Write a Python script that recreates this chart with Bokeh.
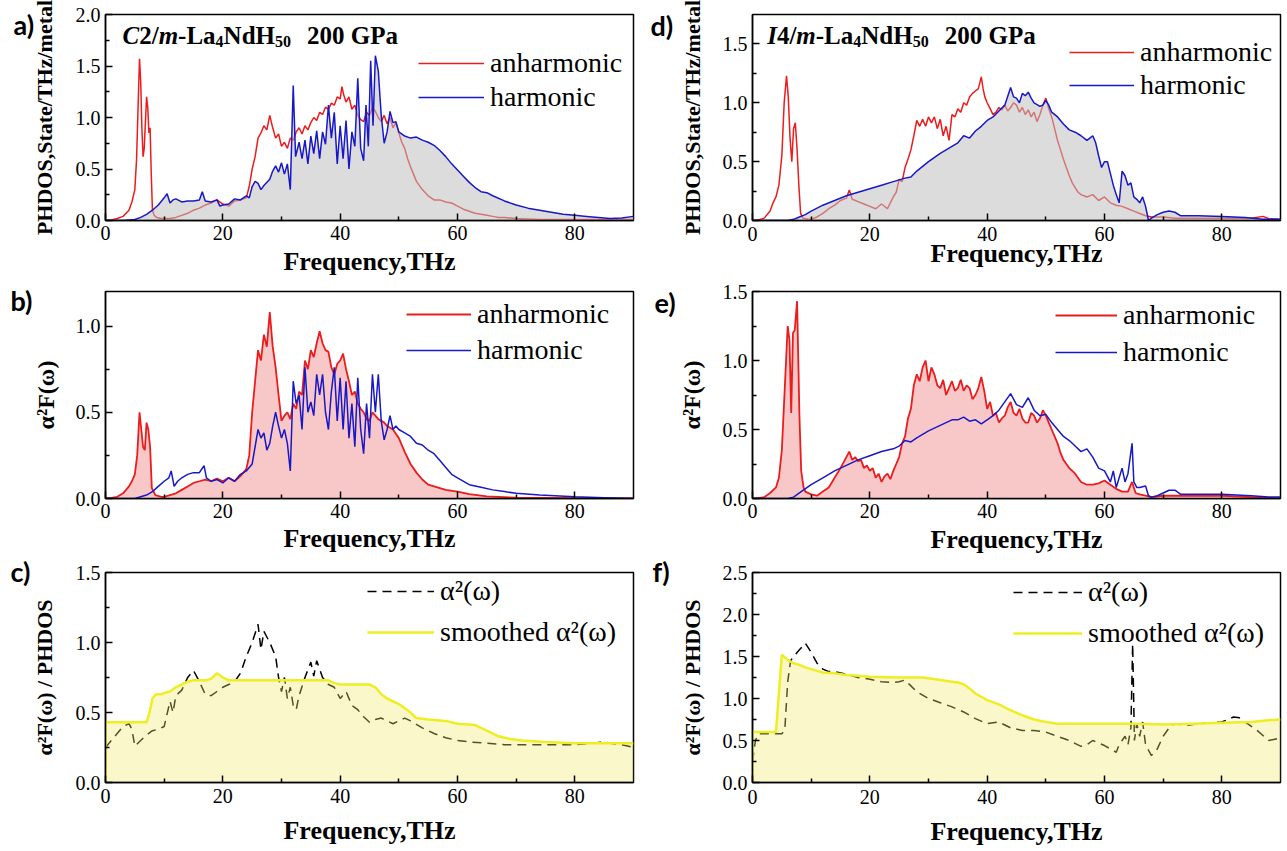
from bokeh.plotting import figure
from bokeh.layouts import column, row
from bokeh.models import (Label, Legend, LegendItem, FixedTicker,
                          NumeralTickFormatter, Range1d, Title)
from bokeh.embed import file_html
from bokeh.resources import INLINE

# ---------------------------------------------------------------- data
# (frequency THz, value) pairs read for each curve

# C2/m-La4NdH50 phonon DOS
a_anh = [(0, 0.0), (1, 0.005), (2, 0.02), (3, 0.04), (3.5, 0.07), (4, 0.1), (4.5, 0.18), (5, 0.3),
         (5.3, 0.6), (5.6, 1.2), (5.8, 1.57), (6.0, 1.35), (6.2, 0.9), (6.4, 0.62), (6.6, 0.7),
         (6.8, 0.95), (7.0, 1.2), (7.2, 1.1), (7.4, 0.85), (7.6, 0.9), (7.8, 0.45), (8.0, 0.1),
         (8.3, 0.05), (8.7, 0.03), (9.5, 0.02), (10, 0.02), (11, 0.02), (12, 0.03), (13, 0.05),
         (14, 0.07), (15, 0.1), (16, 0.12), (17, 0.15), (18, 0.17), (19, 0.2), (20, 0.16),
         (21, 0.14), (22, 0.19), (23, 0.2), (24, 0.22), (24.5, 0.33), (25, 0.5), (25.5, 0.62),
         (26, 0.8), (26.5, 0.85), (27, 0.92), (27.5, 0.88), (28, 1.02), (28.5, 0.9), (29, 0.8),
         (29.5, 0.84), (30, 0.72), (30.5, 0.76), (31, 0.7), (31.5, 0.8), (32, 0.78), (32.5, 0.86),
         (33, 0.9), (33.5, 0.84), (34, 0.92), (34.5, 0.88), (35, 0.95), (35.5, 1.0), (36, 0.97),
         (36.5, 1.05), (37, 1.03), (37.5, 1.1), (38, 1.08), (38.5, 1.14), (39, 1.12), (39.5, 1.2),
         (40, 1.18), (40.3, 1.3), (40.6, 1.22), (41, 1.15), (41.5, 1.2), (42, 1.08), (42.5, 1.12),
         (43, 1.02), (43.5, 0.98), (44, 0.96), (44.5, 1.05), (45, 1.02), (45.5, 1.1), (46, 1.06),
         (46.5, 1.0), (47, 0.96), (47.5, 1.02), (48, 0.94), (48.5, 1.0), (49, 0.9), (49.5, 0.95),
         (50, 0.85), (50.5, 0.76), (51, 0.7), (51.5, 0.6), (52, 0.52), (52.5, 0.45), (53, 0.38),
         (54, 0.3), (55, 0.24), (56, 0.2), (57, 0.2), (58, 0.18), (59, 0.17), (60, 0.14),
         (61, 0.11), (62, 0.09), (63, 0.07), (64, 0.06), (65, 0.05), (66, 0.04), (67, 0.03),
         (68, 0.03), (70, 0.02), (72, 0.015), (74, 0.01), (78, 0.01), (82, 0.01), (86, 0.01),
         (90, 0.01)]
a_harm = [(0, 0.0), (3, 0.0), (4, 0.005), (5, 0.01), (6, 0.03), (7, 0.06), (8, 0.1), (9, 0.15),
          (10, 0.22), (10.5, 0.26), (11, 0.17), (11.5, 0.2), (12, 0.21), (13, 0.18), (14, 0.19),
          (15, 0.19), (16, 0.2), (16.5, 0.28), (17, 0.19), (18, 0.18), (19, 0.2), (19.5, 0.14),
          (20, 0.15), (21, 0.16), (22, 0.21), (23, 0.2), (24, 0.24), (24.5, 0.22), (25, 0.33),
          (25.5, 0.38), (26, 0.36), (26.5, 0.3), (27, 0.34), (28, 0.4), (28.5, 0.48), (29, 0.53),
          (29.5, 0.47), (30, 0.56), (30.5, 0.45), (31, 0.55), (31.5, 0.3), (32, 1.31), (32.4, 0.62),
          (33, 0.76), (33.5, 0.6), (34, 0.78), (34.5, 0.55), (35, 0.82), (35.5, 0.65), (36, 0.87),
          (36.5, 0.6), (37, 0.86), (37.5, 0.74), (38, 1.12), (38.5, 0.8), (39, 1.05), (39.5, 0.55),
          (40, 0.92), (40.5, 0.6), (41, 0.97), (41.5, 0.5), (42, 0.86), (42.5, 0.72), (43, 1.38),
          (43.5, 0.7), (44, 0.58), (44.4, 1.12), (44.8, 0.72), (45.2, 1.55), (45.6, 0.92),
          (46, 1.6), (46.5, 1.45), (47, 1.02), (47.5, 0.75), (48, 0.86), (48.5, 1.06), (49, 0.95),
          (49.5, 0.96), (50, 0.86), (51, 0.82), (52, 0.8), (53, 0.81), (54, 0.78), (55, 0.76),
          (56, 0.73), (57, 0.68), (58, 0.62), (59, 0.55), (60, 0.49), (61, 0.43), (62, 0.37),
          (63, 0.32), (64, 0.28), (65, 0.27), (66, 0.24), (68, 0.19), (70, 0.15), (72, 0.12),
          (74, 0.1), (76, 0.08), (78, 0.06), (80, 0.05), (82, 0.04), (84, 0.03), (86, 0.02),
          (88, 0.025), (90, 0.04)]

# I4/m-La4NdH50 phonon DOS
d_anh = [(0, 0.0), (1, 0.005), (2, 0.02), (3, 0.08), (3.5, 0.15), (4, 0.2), (4.5, 0.3), (5, 0.55),
         (5.4, 1.0), (5.8, 1.23), (6.1, 1.05), (6.4, 0.7), (6.7, 0.5), (7.0, 0.78), (7.3, 0.83),
         (7.6, 0.6), (7.9, 0.3), (8.2, 0.06), (8.6, 0.02), (9.5, 0.01), (10, 0.01), (11, 0.03),
         (12, 0.06), (13, 0.1), (14, 0.13), (15, 0.17), (16, 0.19), (16.5, 0.26), (17, 0.18),
         (18, 0.16), (19, 0.14), (20, 0.12), (21, 0.1), (22, 0.14), (23, 0.1), (24, 0.2),
         (24.5, 0.24), (25, 0.35), (25.5, 0.33), (26, 0.45), (26.5, 0.52), (27, 0.6), (27.5, 0.72),
         (28, 0.85), (28.5, 0.8), (29, 0.86), (29.5, 0.8), (30, 0.88), (30.5, 0.83), (31, 0.88),
         (31.5, 0.78), (32, 0.86), (32.5, 0.72), (33, 0.8), (33.5, 0.68), (34, 0.9), (34.5, 0.88),
         (35, 0.95), (35.5, 0.92), (36, 1.0), (36.5, 0.98), (37, 1.05), (37.5, 1.08), (38, 1.1),
         (38.5, 1.12), (39, 1.22), (39.3, 1.12), (39.6, 1.05), (40, 1.0), (40.5, 0.95), (41, 0.9),
         (41.5, 0.92), (42, 0.96), (42.5, 0.94), (43, 0.98), (43.5, 0.93), (44, 0.96), (44.5, 1.0),
         (45, 0.98), (45.5, 0.92), (46, 0.96), (46.5, 0.9), (47, 0.94), (47.5, 0.88), (48, 0.92),
         (48.5, 0.84), (49, 0.9), (49.5, 0.98), (50, 1.04), (50.5, 0.95), (51, 0.88), (51.5, 0.78),
         (52, 0.68), (52.5, 0.6), (53, 0.52), (53.5, 0.45), (54, 0.38), (54.5, 0.32), (55, 0.28),
         (55.5, 0.24), (56, 0.22), (57, 0.2), (58, 0.22), (59, 0.17), (60, 0.2), (61, 0.15),
         (62, 0.13), (63, 0.12), (64, 0.1), (65, 0.08), (66, 0.06), (67, 0.04), (68, 0.03),
         (70, 0.03), (72, 0.02), (75, 0.02), (80, 0.02), (85, 0.02), (87, 0.035), (88, 0.015),
         (90, 0.01)]
d_harm = [(0, 0.0), (6, 0.0), (7, 0.01), (8, 0.03), (9, 0.05), (10, 0.08), (12, 0.13), (14, 0.17),
          (16, 0.21), (18, 0.24), (20, 0.27), (22, 0.3), (24, 0.33), (26, 0.36), (27, 0.37),
          (28, 0.42), (30, 0.5), (32, 0.57), (34, 0.63), (35, 0.66), (36, 0.72), (37, 0.7),
          (38, 0.76), (39, 0.8), (40, 0.85), (41, 0.88), (42, 0.93), (43, 0.98), (44, 1.13),
          (44.5, 1.05), (45, 1.04), (45.5, 1.0), (46, 1.08), (46.5, 1.06), (47, 1.09), (47.5, 1.04),
          (48, 1.0), (49, 0.97), (49.5, 0.98), (50, 1.02), (50.5, 0.98), (51, 0.92), (52, 0.88),
          (53, 0.82), (54, 0.77), (55, 0.75), (56, 0.72), (57, 0.68), (57.5, 0.7), (58, 0.72),
          (58.5, 0.66), (59, 0.55), (59.5, 0.45), (60, 0.5), (60.5, 0.5), (61, 0.4), (61.5, 0.3),
          (62, 0.22), (62.5, 0.15), (63, 0.42), (63.5, 0.38), (64, 0.3), (64.5, 0.32), (65, 0.2),
          (65.5, 0.18), (66, 0.15), (66.5, 0.2), (67, 0.12), (67.5, 0.0), (68, 0.02), (69, 0.05),
          (70, 0.07), (71, 0.08), (72, 0.07), (73, 0.04), (76, 0.04), (80, 0.035), (84, 0.025),
          (87, 0.01), (90, 0.01)]

# C2/m Eliashberg function
b_anh = [(0, 0.0), (1, 0.003), (2, 0.01), (3, 0.03), (4, 0.07), (4.5, 0.1), (5, 0.14), (5.4, 0.25),
         (5.8, 0.5), (6.1, 0.4), (6.4, 0.3), (6.7, 0.28), (7.0, 0.44), (7.3, 0.4), (7.6, 0.3),
         (7.9, 0.06), (8.5, 0.02), (9.5, 0.01), (10, 0.01), (11, 0.02), (12, 0.03), (13, 0.05),
         (14, 0.07), (15, 0.09), (16, 0.1), (17, 0.11), (18, 0.1), (19, 0.115), (20, 0.1),
         (21, 0.12), (22, 0.1), (23, 0.13), (24, 0.17), (24.5, 0.25), (25, 0.5), (25.5, 0.68),
         (26, 0.86), (26.5, 0.8), (27, 0.95), (27.5, 0.88), (28, 1.08), (28.5, 0.88), (29, 0.76),
         (29.5, 0.6), (30, 0.45), (30.5, 0.48), (31, 0.5), (31.5, 0.46), (32, 0.55), (32.5, 0.52),
         (33, 0.62), (33.5, 0.6), (34, 0.8), (34.5, 0.75), (35, 0.86), (35.5, 0.82), (36, 0.9),
         (36.5, 0.97), (37, 0.9), (37.5, 0.86), (38, 0.85), (38.5, 0.76), (39, 0.72), (39.5, 0.78),
         (40, 0.8), (40.5, 0.84), (41, 0.75), (41.5, 0.68), (42, 0.6), (42.5, 0.62), (43, 0.55),
         (43.5, 0.52), (44, 0.5), (44.5, 0.46), (45, 0.45), (45.5, 0.5), (46, 0.48), (46.5, 0.46),
         (47, 0.45), (47.5, 0.44), (48, 0.42), (49, 0.4), (50, 0.35), (51, 0.27), (52, 0.2),
         (53, 0.15), (54, 0.11), (55, 0.08), (56, 0.07), (57, 0.06), (58, 0.05), (60, 0.04),
         (62, 0.025), (65, 0.012), (70, 0.005), (80, 0.002), (90, 0.0)]
b_harm = [(0, 0.0), (5, 0.0), (6, 0.01), (7, 0.02), (8, 0.04), (9, 0.07), (10, 0.1), (10.8, 0.12),
          (11.2, 0.16), (11.7, 0.07), (12.3, 0.1), (13, 0.12), (14, 0.14), (15, 0.15), (16, 0.15),
          (16.8, 0.19), (17.2, 0.12), (18, 0.1), (19, 0.11), (20, 0.09), (21, 0.12), (22, 0.1),
          (23, 0.14), (24, 0.16), (25, 0.2), (25.5, 0.3), (26, 0.4), (26.5, 0.35), (27, 0.38),
          (27.5, 0.28), (28, 0.32), (28.5, 0.42), (29, 0.5), (29.5, 0.42), (30, 0.35), (30.5, 0.4),
          (31, 0.32), (31.5, 0.16), (32, 0.68), (32.5, 0.55), (33, 0.6), (33.5, 0.4), (34, 0.76),
          (34.5, 0.5), (35, 0.56), (35.5, 0.48), (36, 0.72), (36.5, 0.6), (37, 0.72), (37.5, 0.5),
          (38, 0.4), (38.5, 0.62), (39, 0.76), (39.5, 0.45), (40, 0.7), (40.5, 0.4), (41, 0.68),
          (41.5, 0.35), (42, 0.55), (42.5, 0.3), (43, 0.7), (43.5, 0.4), (44, 0.26), (44.5, 0.55),
          (45, 0.35), (45.5, 0.72), (46, 0.5), (46.5, 0.72), (47, 0.45), (47.5, 0.34), (48, 0.4),
          (48.5, 0.48), (49, 0.4), (49.5, 0.42), (50, 0.4), (51, 0.38), (52, 0.36), (53, 0.32),
          (54, 0.31), (55, 0.28), (56, 0.26), (57, 0.22), (58, 0.18), (59, 0.14), (60, 0.12),
          (62, 0.08), (64, 0.065), (66, 0.05), (68, 0.04), (70, 0.03), (74, 0.02), (80, 0.01),
          (85, 0.005), (90, 0.0)]

# I4/m Eliashberg function
e_anh = [(0, 0.0), (1, 0.003), (2, 0.01), (3, 0.04), (4, 0.08), (4.5, 0.15), (5, 0.35), (5.5, 0.8),
         (6.0, 1.25), (6.3, 1.15), (6.6, 0.62), (6.9, 1.2), (7.2, 1.22), (7.6, 1.43), (8.0, 0.6),
         (8.3, 0.2), (8.7, 0.08), (9, 0.05), (10, 0.03), (11, 0.02), (12, 0.05), (13, 0.08),
         (14, 0.15), (15, 0.22), (16, 0.3), (16.5, 0.34), (17, 0.28), (17.5, 0.3), (18, 0.27),
         (18.5, 0.28), (19, 0.22), (19.5, 0.24), (20, 0.2), (20.5, 0.22), (21, 0.15), (21.5, 0.18),
         (22, 0.12), (22.5, 0.16), (23, 0.18), (23.5, 0.14), (24, 0.2), (24.5, 0.25), (25, 0.3),
         (25.5, 0.4), (26, 0.45), (26.5, 0.58), (27, 0.65), (27.5, 0.82), (28, 0.9), (28.5, 0.85),
         (29, 0.95), (29.5, 1.0), (30, 0.85), (30.5, 0.95), (31, 0.9), (31.5, 0.82), (32, 0.8),
         (32.5, 0.86), (33, 0.75), (33.5, 0.8), (34, 0.85), (34.5, 0.78), (35, 0.8), (35.5, 0.86),
         (36, 0.78), (36.5, 0.82), (37, 0.8), (37.5, 0.72), (38, 0.75), (38.5, 0.8), (39, 0.88),
         (39.5, 0.78), (40, 0.65), (40.5, 0.7), (41, 0.6), (41.5, 0.62), (42, 0.55), (42.5, 0.58),
         (43, 0.6), (43.5, 0.66), (44, 0.7), (44.5, 0.62), (45, 0.6), (45.5, 0.65), (46, 0.58),
         (46.5, 0.55), (47, 0.55), (47.5, 0.62), (48, 0.6), (48.5, 0.55), (49, 0.58), (49.5, 0.64),
         (50, 0.6), (50.5, 0.55), (51, 0.5), (51.5, 0.45), (52, 0.4), (52.5, 0.33), (53, 0.28),
         (53.5, 0.25), (54, 0.22), (54.5, 0.2), (55, 0.18), (56, 0.12), (57, 0.1), (58, 0.1),
         (59, 0.11), (60, 0.13), (61, 0.1), (62, 0.07), (63, 0.05), (64, 0.05), (64.7, 0.12),
         (65.3, 0.04), (66, 0.03), (67, 0.02), (68, 0.01), (70, 0.02), (72, 0.02), (75, 0.02),
         (80, 0.02), (85, 0.01), (90, 0.0)]
e_harm = [(0, 0.0), (6, 0.0), (7, 0.01), (8, 0.04), (10, 0.1), (12, 0.15), (14, 0.2), (16, 0.24),
          (18, 0.28), (20, 0.31), (22, 0.34), (24, 0.36), (25, 0.38), (26, 0.42), (27, 0.41),
          (28, 0.44), (30, 0.49), (32, 0.53), (34, 0.57), (35, 0.57), (36, 0.59), (37, 0.56),
          (38, 0.57), (39, 0.54), (40, 0.57), (41, 0.6), (42, 0.64), (43, 0.7), (44, 0.76),
          (45, 0.68), (46, 0.66), (47, 0.73), (48, 0.64), (49, 0.6), (50, 0.61), (51, 0.55),
          (52, 0.5), (53, 0.45), (54, 0.42), (55, 0.38), (56, 0.34), (57, 0.36), (58, 0.3),
          (59, 0.22), (60, 0.2), (61, 0.12), (61.5, 0.2), (62, 0.08), (63, 0.22), (63.5, 0.12),
          (64, 0.18), (64.7, 0.4), (65, 0.12), (65.5, 0.08), (66, 0.08), (67, 0.09), (67.5, 0.02),
          (68, 0.01), (69, 0.02), (70, 0.04), (71, 0.06), (72, 0.06), (73, 0.03), (76, 0.03),
          (80, 0.03), (85, 0.02), (88, 0.01), (90, 0.01)]

# alpha^2 = alpha^2F / PHDOS, raw and smoothed
c_alpha = [(0, 0.25), (1, 0.3), (2, 0.35), (3, 0.4), (4, 0.42), (4.5, 0.38), (5, 0.26), (6, 0.3),
           (7, 0.34), (8, 0.37), (9, 0.38), (10, 0.4), (11, 0.58), (11.5, 0.5), (12, 0.62),
           (13, 0.66), (14, 0.75), (15, 0.8), (16, 0.72), (17, 0.63), (18, 0.62), (19, 0.65),
           (20, 0.68), (21, 0.7), (22, 0.72), (23, 0.78), (24, 0.9), (25, 1.0), (26, 1.13),
           (26.5, 0.95), (27, 1.08), (28, 1.0), (29, 0.9), (29.5, 0.75), (30, 0.65), (30.5, 0.75),
           (31, 0.6), (31.5, 0.68), (32, 0.55), (32.5, 0.52), (33, 0.62), (34, 0.75), (35, 0.86),
           (35.5, 0.76), (36, 0.87), (37, 0.75), (38, 0.7), (39, 0.68), (40, 0.6), (41, 0.65),
           (42, 0.55), (43, 0.52), (44, 0.47), (45, 0.43), (46, 0.45), (47, 0.46), (48, 0.44),
           (49, 0.42), (50, 0.44), (51, 0.46), (52, 0.44), (54, 0.39), (56, 0.35), (58, 0.32),
           (60, 0.3), (62, 0.29), (65, 0.28), (68, 0.27), (70, 0.27), (75, 0.27), (80, 0.27),
           (83, 0.28), (85, 0.29), (86, 0.28), (88, 0.27), (90, 0.25)]
c_smooth = [(0, 0.0), (0, 0.43), (7, 0.43), (7.5, 0.5), (8, 0.6), (8.6, 0.63), (9.5, 0.63),
            (10, 0.64), (11, 0.65), (12, 0.68), (13, 0.7), (14, 0.72), (15, 0.73), (17, 0.73),
            (18, 0.74), (19, 0.78), (20, 0.75), (21, 0.73), (25, 0.73), (30, 0.73), (35, 0.73),
            (38, 0.73), (39, 0.71), (40, 0.7), (45, 0.7), (46, 0.68), (47, 0.63), (48, 0.6),
            (50, 0.56), (52, 0.5), (53, 0.46), (55, 0.45), (58, 0.44), (60, 0.42), (63, 0.41),
            (65, 0.37), (67, 0.33), (69, 0.31), (71, 0.3), (75, 0.29), (80, 0.28), (85, 0.28),
            (90, 0.28)]
f_alpha = [(0, 0.25), (0.5, 0.5), (1, 0.58), (5, 0.58), (5.5, 0.62), (6, 1.2), (6.5, 1.45),
           (7, 1.5), (8, 1.58), (9, 1.66), (10, 1.55), (11, 1.42), (12, 1.35), (13, 1.32),
           (14, 1.32), (16, 1.29), (18, 1.25), (20, 1.23), (22, 1.2), (24, 1.19), (25, 1.2),
           (26, 1.22), (27, 1.15), (28, 1.08), (30, 1.0), (32, 0.95), (34, 0.9), (36, 0.84),
           (38, 0.76), (40, 0.7), (42, 0.72), (44, 0.65), (46, 0.62), (48, 0.62), (50, 0.6),
           (52, 0.55), (54, 0.5), (56, 0.43), (57, 0.45), (58, 0.5), (59, 0.47), (60, 0.44),
           (61, 0.4), (62, 0.36), (62.5, 0.45), (63, 0.5), (63.5, 0.55), (64, 0.45), (64.5, 0.65),
           (64.8, 1.65), (65.1, 0.5), (65.5, 0.7), (66, 0.55), (66.5, 0.72), (67, 0.45), (68, 0.32),
           (69, 0.4), (70, 0.55), (71, 0.65), (72, 0.7), (74, 0.68), (76, 0.7), (78, 0.71),
           (80, 0.72), (82, 0.78), (83, 0.77), (84, 0.72), (86, 0.62), (88, 0.5), (90, 0.53)]
f_smooth = [(0, 0.0), (0, 0.6), (4, 0.6), (5, 1.52), (6, 1.46), (7, 1.42), (8, 1.4), (9, 1.37),
            (10, 1.35), (12, 1.31), (14, 1.3), (16, 1.28), (18, 1.27), (20, 1.26), (25, 1.25),
            (29, 1.25), (30, 1.24), (32, 1.22), (34, 1.2), (35, 1.19), (36, 1.17), (37, 1.12),
            (38, 1.06), (40, 0.98), (42, 0.93), (44, 0.86), (46, 0.8), (48, 0.75), (50, 0.72),
            (52, 0.7), (55, 0.7), (60, 0.7), (65, 0.7), (70, 0.69), (75, 0.7), (80, 0.71),
            (85, 0.72), (88, 0.74), (90, 0.75)]

x_ticks = [0, 20, 40, 60, 80]
x_minor = [10, 30, 50, 70]

# ---------------------------------------------------------------- style
SERIF = "Liberation Serif"
RED = "#ec1c1c"
BLUE = "#1818c8"
GREY = "#c0c0c0"
PINK = "#f8c8c8"
YELLOW = "#eeee22"
YFILL = "#f2ec6a"

BOLD_W = {"2": .5, "/": .278, "-": .333, "L": .667, "a": .5, "N": .722, "d": .556, "H": .778,
          "4": .5, "5": .5, "0": .5, " ": .25, "G": .778, "P": .611}
BOLD_ITALIC_W = {"C": .667, "m": .778, "I": .389}


def xy(pairs):
    return [p[0] for p in pairs], [p[1] for p in pairs]


def panel(w, h, left, top, fh, ymax, ystep, ylabel, ylabel_size, ylab_standoff,
          tick_standoff, xlab_standoff, letter, letter_dx, letter_standoff):
    bottom = h - top - fh
    # the panel letter sits in the title slot, pulled left and down beside the frame
    letter_title = Title(text=letter, align="left", offset=letter_dx, standoff=letter_standoff,
                         text_font="Lato", text_font_style="bold", text_font_size="27px",
                         text_color="black")
    p = figure(width=w, height=h, x_range=Range1d(0, 90), y_range=Range1d(0, ymax),
               output_backend="svg", toolbar_location=None, title=letter_title,
               min_border_left=left, min_border_right=7,
               min_border_top=top, min_border_bottom=bottom)
    p.background_fill_color = None
    p.border_fill_color = None
    p.outline_line_color = "black"
    p.outline_line_width = 1.5
    p.outline_line_alpha = 1.0
    p.grid.visible = False

    p.xaxis.ticker = FixedTicker(ticks=x_ticks, minor_ticks=x_minor)
    majors = []
    minors = []
    k = 0
    while k * ystep <= ymax + 1e-9:
        majors.append(round(k * ystep, 3))
        if (k + 0.5) * ystep < ymax - 1e-9:
            minors.append(round((k + 0.5) * ystep, 3))
        k += 1
    p.yaxis.ticker = FixedTicker(ticks=majors, minor_ticks=minors)
    p.yaxis.formatter = NumeralTickFormatter(format="0.0")

    for ax in (p.xaxis, p.yaxis):
        ax.axis_line_width = 1.5
        ax.major_tick_line_width = 1.5
        ax.minor_tick_line_width = 1.5
        ax.major_tick_in = 7
        ax.major_tick_out = 0
        ax.minor_tick_in = 4
        ax.minor_tick_out = 0
        ax.major_label_text_font = SERIF
        ax.major_label_text_font_size = "20px"
        ax.major_label_text_color = "black"
        ax.axis_label_text_font = SERIF
        ax.axis_label_text_font_style = "bold"
        ax.axis_label_text_color = "black"

    p.xaxis.axis_label = "Frequency,THz"
    p.xaxis.axis_label_text_font_size = "26px"
    p.xaxis.major_label_standoff = tick_standoff
    p.xaxis.axis_label_standoff = xlab_standoff
    p.yaxis.axis_label = ylabel
    p.yaxis.axis_label_text_font_size = f"{ylabel_size}px"
    p.yaxis.major_label_standoff = 5
    p.yaxis.axis_label_standoff = ylab_standoff
    return p


def formula(p, x, y, pieces):
    off = 0.0
    for text, style, size, dy in pieces:
        if text:
            p.add_layout(Label(x=x, y=y, x_offset=off, y_offset=dy, text=text,
                               text_font=SERIF, text_font_style=style,
                               text_font_size=f"{size}px", text_baseline="alphabetic",
                               text_align="left", text_color="black"))
            table = BOLD_ITALIC_W if style == "bold italic" else BOLD_W
            off += sum(table.get(ch, .5) for ch in text) * size
        else:
            off += size


def legend(p, entries, gx, c1, pitch, gw, fh):
    item_h = 31
    spacing = pitch - item_h
    top = c1 - item_h / 2
    bottom = top + 2 * item_h + spacing
    leg = Legend(items=[LegendItem(label=t, renderers=[r]) for t, r in entries],
                 location=(gx, fh - bottom), glyph_width=gw, glyph_height=20,
                 label_height=20, label_standoff=6, spacing=spacing, padding=0, margin=0,
                 border_line_alpha=0, background_fill_alpha=0,
                 label_text_font=SERIF, label_text_font_size="28px",
                 label_text_color="black")
    p.add_layout(leg)


def dos_panel(w, h, left, top, fh, ymax, anh, harm, ylab_st, t_st, x_st, letter,
              title_x, title_y, head, lg):
    p = panel(w, h, left, top, fh, ymax, 0.5, "PHDOS,State/THz/metal", 22, ylab_st, t_st, x_st,
              *letter)
    ax, ay = xy(anh)
    hx, hy = xy(harm)
    r_anh = p.line(ax, ay, line_color=RED, line_width=1.5)
    p.varea(x=hx, y1=[0] * len(hx), y2=hy, fill_color=GREY, fill_alpha=0.55)
    r_harm = p.line(hx, hy, line_color=BLUE, line_width=1.5)
    formula(p, title_x, title_y, head)
    legend(p, [("anharmonic", r_anh), ("harmonic", r_harm)], *lg, fh)
    return p


def a2f_panel(w, h, left, top, fh, ymax, anh, harm, ylab_st, t_st, x_st, letter, lg):
    p = panel(w, h, left, top, fh, ymax, 0.5, "\u03b1\u00b2F(\u03c9)", 24, ylab_st, t_st, x_st,
              *letter)
    ax, ay = xy(anh)
    hx, hy = xy(harm)
    p.varea(x=ax, y1=[0] * len(ax), y2=ay, fill_color=PINK, fill_alpha=1.0)
    r_anh = p.line(ax, ay, line_color=RED, line_width=1.8)
    r_harm = p.line(hx, hy, line_color=BLUE, line_width=1.5)
    legend(p, [("anharmonic", r_anh), ("harmonic", r_harm)], *lg, fh)
    return p


def ratio_panel(w, h, left, top, fh, ymax, raw, smooth, ylab_st, t_st, x_st, letter, lg):
    p = panel(w, h, left, top, fh, ymax, 0.5, "\u03b1\u00b2F(\u03c9) / PHDOS", 22,
              ylab_st, t_st, x_st, *letter)
    rx, ry = xy(raw)
    sx, sy = xy(smooth)
    r_raw = p.line(rx, ry, line_color="black", line_width=1.5, line_dash="9 6")
    p.varea(x=sx, y1=[0] * len(sx), y2=sy, fill_color=YFILL, fill_alpha=0.35)
    r_sm = p.line(sx, sy, line_color=YELLOW, line_width=2.5)
    legend(p, [("\u03b1\u00b2(\u03c9)", r_raw), ("smoothed \u03b1\u00b2(\u03c9)", r_sm)], *lg, fh)
    return p


head_c2m = [("C", "bold italic", 25, 0), ("2/", "bold", 25, 0), ("m", "bold italic", 25, 0),
            ("-La", "bold", 25, 0), ("4", "bold", 16, -6), ("NdH", "bold", 25, 0),
            ("50", "bold", 16, -6), ("", "bold", 16, 0), ("200 GPa", "bold", 25, 0)]
head_i4m = [("I", "bold italic", 25, 0), ("4/", "bold", 25, 0), ("m", "bold italic", 25, 0),
            ("-La", "bold", 25, 0), ("4", "bold", 16, -6), ("NdH", "bold", 25, 0),
            ("50", "bold", 16, -6), ("", "bold", 16, 0), ("200 GPa", "bold", 25, 0)]

pa = dos_panel(640, 280, 105, 14, 213, 2.0, a_anh, a_harm, 16, 5, 4, ("a)", -92, -52),
               2.9, 1.8, head_c2m, (313, 57, 33, 66))
pd = dos_panel(647, 280, 112, 8, 212, 1.75, d_anh, d_harm, 15, 6, -5, ("d)", -102, -54),
               2.5, 1.57, head_i4m, (317, 45, 32, 65))
pb = a2f_panel(640, 276, 105, 11, 212, 1.2, b_anh, b_harm, 14, 5, 3, ("b)", -95, -50),
               (301, 29, 35, 65))
pe = a2f_panel(647, 276, 112, 9, 212, 1.5, e_anh, e_harm, 15, 5, 4, ("e)", -98, -54),
               (303, 30, 36, 62))
pc = ratio_panel(640, 295, 105, 16, 211, 1.5, c_alpha, c_smooth, 16, 6, 10, ("c)", -95, -30),
                 (262, 21, 40, 67))
pf = ratio_panel(647, 295, 112, 15, 211, 2.5, f_alpha, f_smooth, 15, 7, 10, ("f)", -100, -30),
                 (261, 22, 40, 69))

layout = column(row(pa, pd), row(pb, pe), row(pc, pf))

open("out.html", "w").write(file_html(layout, INLINE))
